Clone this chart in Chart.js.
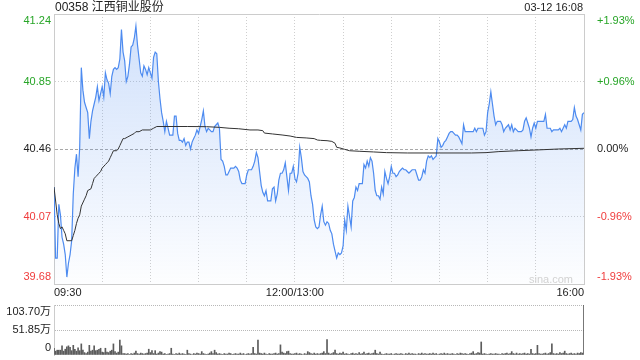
<!DOCTYPE html>
<html>
<head>
<meta charset="utf-8">
<script src="https://cdn.jsdelivr.net/npm/chart.js@4.4.1/dist/chart.umd.min.js"></script>
<style>
  body { margin: 0; background: #fff; }
  #wrap { position: relative; width: 640px; height: 360px; overflow: hidden; font-family: "Liberation Sans", Arial, "Noto Sans CJK SC", sans-serif; }
  #price-chart { position: absolute; left: 0; top: 0; }
  #vol-chart { position: absolute; left: 0; top: 300px; }
  .txt { position: absolute; white-space: nowrap; line-height: 14px; }
  #title { left: 55px; top: 0; font-size: 12px; color: #222; }
  #stamp { right: 57px; top: 0; font-size: 11px; color: #222; }
  #mark { right: 67px; top: 272px; font-size: 11px; color: #d2d2d2; }
</style>
</head>
<body>
<div id="wrap">
  <canvas id="price-chart" width="640" height="300"></canvas>
  <canvas id="vol-chart" width="640" height="60"></canvas>
  <div class="txt" id="title">00358 江西铜业股份</div>
  <div class="txt" id="stamp">03-12 16:08</div>
  <div class="txt" id="mark">sina.com</div>
</div>
<script>
// minute index 0 = 09:30, 150 = 12:00/13:00, 330 = 16:00
const prevClose = 40.46;
const priceTicks = [39.68, 40.07, 40.46, 40.85, 41.24];
const pctLabels = ['-1.93%', '-0.96%', '0.00%', '+0.96%', '+1.93%'];
const timeTicks = [0, 30, 60, 90, 120, 150, 180, 210, 240, 270, 300, 330];
const timeLabelMinutes = [0, 150, 330];
const timeLabelTexts = ['09:30', '12:00/13:00', '16:00'];

// one price per minute
const prices = [
  40.24, 39.83, 39.83, 40.14, 40.08, 39.95, 39.91, 39.85, 39.72, 39.80,
  39.85, 39.93, 40.20, 40.35, 40.43, 40.30, 40.47, 40.93, 40.80, 40.73,
  40.70, 40.67, 40.52, 40.62, 40.68, 40.72, 40.76, 40.82, 40.74, 40.78,
  40.82, 40.76, 40.90, 40.86, 40.84, 40.78, 40.88, 40.92, 40.93, 40.92,
  40.93, 40.98, 41.15, 41.02, 40.97, 40.85, 40.88, 40.95, 41.05, 41.06,
  41.10, 41.17, 41.06, 40.98, 40.90, 40.88, 40.94, 40.92, 40.89, 40.93,
  40.90, 40.87, 40.99, 41.02, 41.01, 40.85, 40.75, 40.67, 40.62, 40.56,
  40.62, 40.58, 40.54, 40.54, 40.54, 40.65, 40.65, 40.55, 40.51, 40.51,
  40.50, 40.52, 40.48, 40.50, 40.50, 40.46, 40.50, 40.52, 40.54, 40.57,
  40.55, 40.59, 40.63, 40.68, 40.59, 40.56, 40.58, 40.57, 40.56, 40.56,
  40.59, 40.60, 40.61, 40.58, 40.40, 40.39, 40.36, 40.31, 40.31, 40.33,
  40.35, 40.35, 40.35, 40.36, 40.35, 40.33, 40.28, 40.26, 40.26, 40.26,
  40.31, 40.34, 40.34, 40.34, 40.36, 40.39, 40.44, 40.41, 40.33, 40.25,
  40.21, 40.19, 40.22, 40.16, 40.16, 40.16, 40.23, 40.24, 40.16, 40.20,
  40.28, 40.32, 40.32, 40.34, 40.38, 40.30, 40.22, 40.32, 40.32, 40.36,
  40.29, 40.27, 40.32, 40.47, 40.41, 40.33, 40.31, 40.30, 40.29, 40.27,
  40.19, 40.14, 40.05, 40.01, 40.00, 40.01, 40.08, 40.13, 40.04, 40.02,
  40.04, 40.03, 39.99, 39.97, 39.91, 39.87, 39.83, 39.86, 39.85, 39.86,
  39.90, 40.05, 39.99, 40.13, 40.07, 40.01, 40.16, 40.18, 40.24, 40.22,
  40.26, 40.26, 40.26, 40.37, 40.35, 40.39, 40.36, 40.41, 40.39, 40.32,
  40.22, 40.19, 40.19, 40.17, 40.24, 40.20, 40.33, 40.29, 40.26, 40.30,
  40.36, 40.32, 40.32, 40.30, 40.31, 40.33, 40.34, 40.35, 40.34, 40.34,
  40.33, 40.32, 40.33, 40.34, 40.34, 40.34, 40.31, 40.28, 40.28, 40.30,
  40.34, 40.32, 40.39, 40.42, 40.41, 40.42, 40.40, 40.41, 40.42, 40.52,
  40.50, 40.47, 40.48, 40.50, 40.51, 40.53, 40.55, 40.56, 40.56, 40.55,
  40.54, 40.54, 40.53, 40.51, 40.49, 40.60, 40.56, 40.56, 40.56, 40.56,
  40.56, 40.56, 40.58, 40.56, 40.58, 40.58, 40.58, 40.58, 40.54, 40.56,
  40.67, 40.72, 40.79, 40.72, 40.65, 40.60, 40.62, 40.62, 40.62, 40.60,
  40.56, 40.58, 40.59, 40.60, 40.57, 40.60, 40.56, 40.58, 40.57, 40.56,
  40.56, 40.56, 40.57, 40.62, 40.64, 40.61, 40.58, 40.53, 40.58, 40.61,
  40.58, 40.62, 40.62, 40.62, 40.62, 40.62, 40.66, 40.58, 40.58, 40.58,
  40.56, 40.57, 40.57, 40.57, 40.57, 40.58, 40.56, 40.58, 40.60, 40.58,
  40.62, 40.62, 40.62, 40.63, 40.70, 40.65, 40.63, 40.60, 40.57, 40.66,
  40.67
];

// average price line, read at its turning points
const avgMinutes = [
  0, 2, 3, 4, 5, 6, 7, 8, 11, 12, 13, 14, 15, 16, 17, 19, 20, 21, 23, 24,
  25, 26, 28, 29, 30, 32, 33, 34, 35, 36, 37, 39, 40, 41, 42, 43, 44, 46, 48, 50,
  51, 53, 55, 60, 62, 64, 66, 83, 95, 103, 109, 115, 122, 127, 130, 131, 136, 142, 147, 151,
  157, 162, 164, 166, 170, 173, 175, 176, 178, 181, 184, 190, 199, 207, 220, 240, 260, 269, 277, 289,
  302, 314, 330
];
const avgPrices = [
  40.24, 40.08, 40.03, 40.00, 40.01, 39.99, 39.97, 39.93, 39.93, 39.96, 39.99, 40.03, 40.06, 40.08, 40.13, 40.17, 40.19, 40.22, 40.23, 40.26,
  40.29, 40.30, 40.32, 40.33, 40.35, 40.37, 40.38, 40.39, 40.41, 40.43, 40.45, 40.45, 40.46, 40.48, 40.50, 40.52, 40.52, 40.53, 40.54, 40.55,
  40.56, 40.56, 40.57, 40.57, 40.58, 40.59, 40.59, 40.59, 40.589, 40.585, 40.58, 40.577, 40.57, 40.57, 40.566, 40.552, 40.547, 40.541, 40.535, 40.527,
  40.524, 40.52, 40.512, 40.51, 40.508, 40.504, 40.493, 40.47, 40.466, 40.458, 40.45, 40.447, 40.443, 40.439, 40.437, 40.437, 40.437, 40.439, 40.445, 40.45,
  40.455, 40.46, 40.464
];

// volume per minute, in 万 shares
const volumes = [
  14, 8, 10, 10, 10, 19, 8, 12, 17, 19, 16, 9, 20, 12, 8, 15, 9, 23, 10, 5,
  3, 6, 20, 8, 10, 19, 9, 10, 12, 14, 6, 5, 14, 6, 5, 8, 10, 23, 7, 4,
  6, 31, 19, 3, 3,
  2, 3, 1, 3, 2, 4, 8, 3, 2, 4,
  3, 2, 3, 4, 12, 5, 9, 3, 9, 2,
  4, 7, 6, 2, 3, 1, 2, 3, 14, 2,
  1, 3, 2, 4, 2, 3, 2, 1, 10, 3,
  2, 1, 3, 2, 4, 3, 2, 7, 3, 2,
  1, 2, 4, 7, 3, 10, 5, 2, 3, 2,
  1, 3, 2, 2, 4, 3, 1, 2, 3, 2,
  2, 4, 2, 3, 1, 2, 3, 2, 3, 16,
  3, 2, 31, 4, 3, 2, 4, 2, 1, 3,
  2, 2, 3, 4, 2, 3, 21, 6, 4, 3,
  7, 8, 3, 2, 2, 3, 4, 2, 3, 2,
  1, 3, 2, 7, 5, 3, 2, 4, 2, 3,
  2, 3, 4, 7, 3, 32, 4, 2, 3, 5,
  10, 3, 2, 4, 3, 6, 2, 3, 2, 1,
  3, 4, 2, 3, 2, 5, 2, 3, 6, 2,
  3, 4, 2, 3, 4, 10, 3, 2, 6, 2,
  1, 2, 3, 2, 2, 3, 1, 2, 3, 2,
  2, 3, 2, 1, 3, 2, 4, 2, 3, 2,
  2, 1, 3, 2, 4, 2, 3, 2, 2, 3,
  2, 4, 2, 3, 1, 2, 3, 2, 4, 2,
  3, 2, 2, 3, 2, 1, 3, 2, 4, 3,
  2, 3, 2, 1, 3, 4, 7, 2, 3, 5,
  4, 27, 2, 3, 2, 1, 2, 3, 2, 2,
  3, 2, 2, 1, 3, 2, 3, 4, 2, 3,
  7, 3, 2, 4, 2, 3, 2, 3, 4, 2,
  3, 2, 12, 3, 2, 3, 20, 3, 2, 2,
  3, 4, 2, 3, 5, 23, 3, 2, 3, 2,
  5, 3, 4, 8, 3, 2, 3, 4, 2, 3,
  2, 4, 3, 5, 4, 103.70
];
const volTicks = [0, 51.85, 103.70];
const volLabels = ['0', '51.85万', '103.70万'];

const upColor = '#27a527';
const downColor = '#f03c3c';
const flatColor = '#222';
const gridColor = '#cfcfcf';
const frameColor = '#cccccc';

Chart.defaults.font.family = '"Liberation Sans", Arial, "Noto Sans CJK SC", sans-serif';
Chart.defaults.font.size = 11;
Chart.defaults.color = '#222';

// top/bottom labels sit inside the frame: pad them with an empty line
function edgeLabel(text, index, count) {
  if (index === count - 1) return ['', text];
  if (index === 0) return [text, ''];
  return text;
}

function tickColor(ctx) {
  if (ctx.index === 2) return flatColor;
  return ctx.index > 2 ? upColor : downColor;
}

function fixWidth(w) {
  return function (scale) {
    scale.width = w;
    scale.paddingTop = 0;
    scale.paddingBottom = 0;
  };
}

const lastTime = timeTicks.length - 1;
const lastPrice = priceTicks.length - 1;
const lastVol = volTicks.length - 1;

new Chart(document.getElementById('price-chart'), {
  type: 'line',
  data: {
    datasets: [
      {
        label: 'avg',
        data: avgMinutes.map((m, i) => ({ x: m, y: avgPrices[i] })),
        borderColor: '#333',
        borderWidth: 1,
        pointRadius: 0,
        fill: false,
        tension: 0,
        order: 0
      },
      {
        label: 'price',
        data: prices.map((p, i) => ({ x: i, y: p })),
        borderColor: '#4d8bf0',
        borderWidth: 1.2,
        pointRadius: 0,
        tension: 0,
        fill: 'start',
        backgroundColor: (ctx) => {
          const area = ctx.chart.chartArea;
          if (!area) return 'rgba(77,139,240,0.15)';
          const g = ctx.chart.ctx.createLinearGradient(0, area.top, 0, area.bottom);
          g.addColorStop(0, 'rgba(77,139,240,0.27)');
          g.addColorStop(1, 'rgba(77,139,240,0.01)');
          return g;
        },
        order: 1
      }
    ]
  },
  options: {
    responsive: false,
    animation: false,
    layout: { padding: { top: 14, left: 0, right: 0, bottom: 0 } },
    plugins: { legend: { display: false }, tooltip: { enabled: false } },
    scales: {
      x: {
        type: 'linear',
        min: 0,
        max: 330,
        afterBuildTicks: (scale) => { scale.ticks = timeTicks.map(v => ({ value: v })); },
        afterFit: (scale) => { scale.height = 16; scale.paddingLeft = 0; scale.paddingRight = 0; },
        ticks: {
          autoSkip: false,
          maxRotation: 0,
          align: 'inner',
          padding: 2,
          color: '#222',
          callback: (value) => {
            const k = timeLabelMinutes.indexOf(value);
            return k >= 0 ? timeLabelTexts[k] : '';
          }
        },
        grid: {
          drawTicks: false,
          color: (c) => (c.index === 0 || c.index === lastTime) ? 'rgba(0,0,0,0)' : gridColor
        },
        border: { display: false, dash: [1, 2] }
      },
      y: {
        position: 'left',
        min: priceTicks[0],
        max: priceTicks[lastPrice],
        afterBuildTicks: (scale) => { scale.ticks = priceTicks.map(v => ({ value: v })); },
        afterFit: fixWidth(54),
        ticks: {
          autoSkip: false,
          padding: 3,
          color: tickColor,
          callback: (value, index) => edgeLabel(priceTicks[index].toFixed(2), index, priceTicks.length)
        },
        grid: {
          drawTicks: false,
          color: (c) => {
            if (c.index === 0 || c.index === lastPrice) return frameColor;
            return c.index === 2 ? '#a8a8a8' : gridColor;
          }
        },
        border: {
          display: true,
          color: frameColor,
          dash: (c) => {
            if (c.type !== 'tick' || c.index === 0 || c.index === lastPrice) return [];
            return c.index === 2 ? [3, 2] : [1, 2];
          }
        }
      },
      y2: {
        position: 'right',
        min: priceTicks[0],
        max: priceTicks[lastPrice],
        afterBuildTicks: (scale) => { scale.ticks = priceTicks.map(v => ({ value: v })); },
        afterFit: fixWidth(56),
        ticks: {
          autoSkip: false,
          padding: 5,
          color: tickColor,
          callback: (value, index) => edgeLabel(pctLabels[index], index, pctLabels.length)
        },
        grid: { display: false },
        border: { display: true, color: frameColor }
      }
    }
  }
});

new Chart(document.getElementById('vol-chart'), {
  type: 'bar',
  data: {
    datasets: [{
      label: 'volume',
      data: volumes.map((v, i) => ({ x: i, y: v })),
      backgroundColor: '#5c5c5c',
      barThickness: 1
    }]
  },
  options: {
    responsive: false,
    animation: false,
    layout: { padding: { top: 5, bottom: 5, left: 0, right: 56 } },
    plugins: { legend: { display: false }, tooltip: { enabled: false } },
    scales: {
      x: { type: 'linear', min: 0, max: 330, offset: false, display: false },
      y: {
        min: 0,
        max: volTicks[lastVol],
        afterBuildTicks: (scale) => { scale.ticks = volTicks.map(v => ({ value: v })); },
        afterFit: fixWidth(54),
        ticks: {
          autoSkip: false,
          padding: 3,
          color: '#222',
          callback: (value, index) => edgeLabel(volLabels[index], index, volLabels.length)
        },
        grid: {
          display: true,
          drawOnChartArea: true,
          drawTicks: false,
          lineWidth: 1,
          color: (c) => c.index === 0 ? 'rgba(0,0,0,0)' : '#b8b8b8'
        },
        border: {
          display: true,
          color: frameColor,
          dash: (c) => c.type === 'tick' ? [1, 1] : []
        }
      }
    }
  }
});
</script>
</body>
</html>
